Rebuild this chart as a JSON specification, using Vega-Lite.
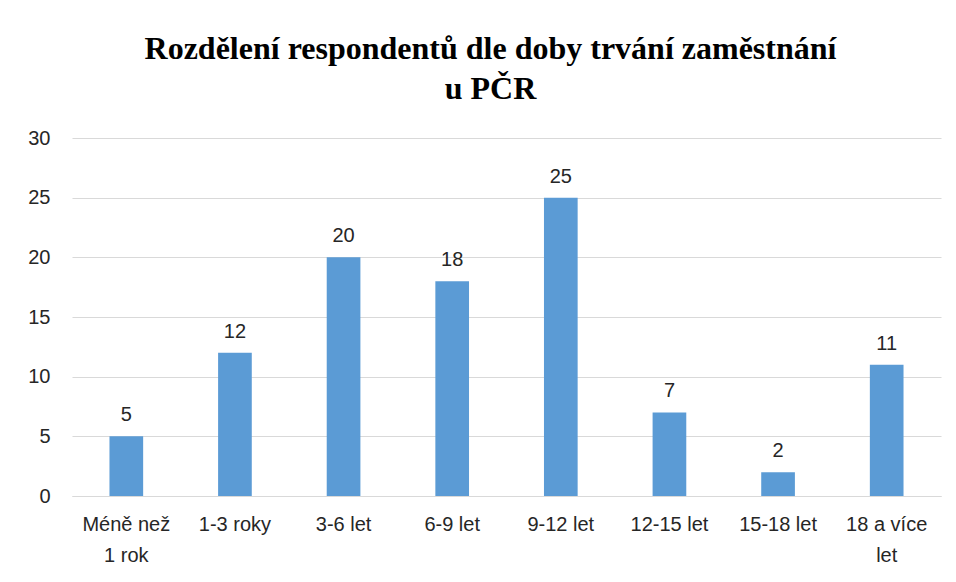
{
  "$schema": "https://vega.github.io/schema/vega-lite/v6.json",
  "width": 869,
  "height": 358,
  "autosize": {"type": "none"},
  "padding": {"left": 72, "top": 138, "right": 15, "bottom": 86},
  "background": "white",
  "config": {"view": {"stroke": null}},
  "title": {
    "text": ["Rozdělení respondentů dle doby trvání zaměstnání", "u PČR"],
    "font": "Liberation Serif",
    "fontSize": 32,
    "fontWeight": "bold",
    "color": "#000000",
    "anchor": "middle",
    "dx": -16,
    "offset": 22,
    "lineHeight": 40
  },
  "data": {
    "values": [
      {"kategorie": "Méně než 1 rok", "pocet": 5},
      {"kategorie": "1-3 roky", "pocet": 12},
      {"kategorie": "3-6 let", "pocet": 20},
      {"kategorie": "6-9 let", "pocet": 18},
      {"kategorie": "9-12 let", "pocet": 25},
      {"kategorie": "12-15 let", "pocet": 7},
      {"kategorie": "15-18 let", "pocet": 2},
      {"kategorie": "18 a více let", "pocet": 11}
    ]
  },
  "encoding": {
    "x": {
      "field": "kategorie",
      "type": "nominal",
      "sort": null,
      "scale": {"paddingInner": 0.69, "paddingOuter": 0.345},
      "axis": {
        "title": null,
        "labelAngle": 0,
        "labelFont": "Liberation Sans",
        "labelFontSize": 20,
        "labelColor": "#262626",
        "labelPadding": 18,
        "labelLineHeight": 31,
        "labelBaseline": "top",
        "ticks": false,
        "domain": true,
        "domainColor": "#D9D9D9",
        "labelExpr": "datum.value == 'Méně než 1 rok' ? ['Méně než', '1 rok'] : datum.value == '18 a více let' ? ['18 a více', 'let'] : datum.value"
      }
    },
    "y": {
      "field": "pocet",
      "type": "quantitative",
      "scale": {"domain": [0, 30]},
      "axis": {
        "title": null,
        "values": [0, 5, 10, 15, 20, 25, 30],
        "labelFont": "Liberation Sans",
        "labelFontSize": 20,
        "labelColor": "#262626",
        "labelPadding": 22,
        "ticks": false,
        "domain": false,
        "gridColor": "#D9D9D9",
        "gridWidth": 1
      }
    }
  },
  "layer": [
    {"mark": {"type": "bar", "color": "#5B9BD5"}},
    {
      "mark": {
        "type": "text",
        "baseline": "bottom",
        "dy": -11,
        "font": "Liberation Sans",
        "fontSize": 20,
        "color": "#262626"
      },
      "encoding": {"text": {"field": "pocet", "type": "quantitative"}}
    }
  ]
}
